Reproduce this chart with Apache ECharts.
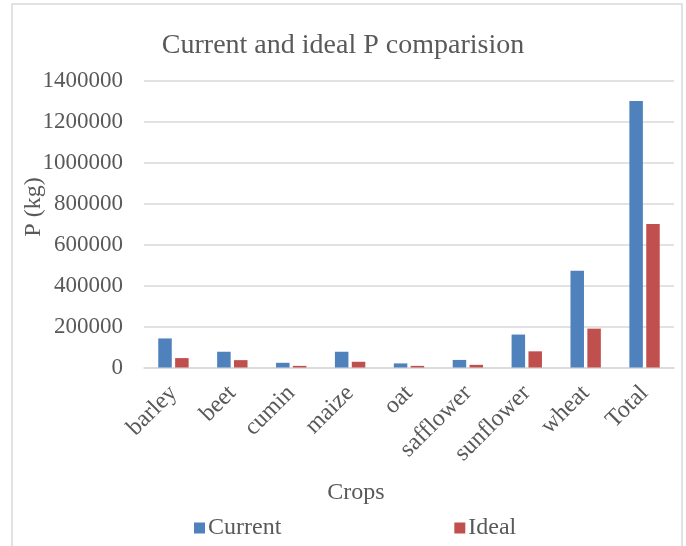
<!DOCTYPE html>
<html>
<head>
<meta charset="utf-8">
<script src="https://cdn.jsdelivr.net/npm/echarts@6/dist/echarts.min.js"></script>
<style>html,body{margin:0;padding:0;background:#fff;}#c{width:686px;height:546px;}</style>
</head>
<body>
<div id="c"></div>
<script>
const categories = ['barley','beet','cumin','maize','oat','safflower','sunflower','wheat','Total'];
const currentValues = [142000, 77000, 23000, 77000, 20000, 37000, 161000, 473000, 1302000];
const idealValues = [46000, 36000, 8000, 28000, 8000, 13000, 79000, 190000, 701000];
const titleText = 'Current and ideal P comparision';
const yAxisTitle = 'P (kg)';
const xAxisTitle = 'Crops';

const font = 'Liberation Serif, Times New Roman, serif';
const grey = '#595959';
const chart = echarts.init(document.getElementById('c'));
chart.setOption({
  animation: false,
  backgroundColor: '#fff',
  title: {
    text: titleText, left: 'center', top: 27,
    textStyle: {fontFamily: font, fontSize: 28, fontWeight: 'normal', color: grey}
  },
  legend: {
    left: 189, top: 511, itemWidth: 11, itemHeight: 11, itemGap: 173,
    icon: 'rect',
    textStyle: {fontFamily: font, fontSize: 24, color: grey, padding: [0,0,0,-2]},
    data: ['Current','Ideal']
  },
  grid: {left: 144, right: 12, top: 81, height: 286.5, containLabel: false},
  xAxis: {
    type: 'category', data: categories,
    axisLine: {lineStyle: {color: '#D9D9D9', width: 1.5}},
    axisTick: {show: false},
    axisLabel: {rotate: 45, fontFamily: font, fontSize: 24, color: grey, margin: 22, interval: 0}
  },
  yAxis: {
    type: 'value', min: 0, max: 1400000, interval: 200000,
    axisLine: {show: false}, axisTick: {show: false},
    splitLine: {lineStyle: {color: '#D9D9D9', width: 1.5}},
    axisLabel: {fontFamily: font, fontSize: 23, color: grey, margin: 21, formatter: function (v) { return String(v); }}
  },
  graphic: [
    {type: 'rect', shape: {x: 12, y: 4, width: 670, height: 600}, style: {fill: 'none', stroke: '#D9D9D9', lineWidth: 1.5}, silent: true},
    {type: 'text', x: 34, y: 207, rotation: Math.PI/2, style: {text: yAxisTitle, font: '24px ' + font, fill: grey, textAlign: 'center', textVerticalAlign: 'middle'}},
    {type: 'text', x: 356, y: 493, style: {text: xAxisTitle, font: '24px ' + font, fill: grey, textAlign: 'center', textVerticalAlign: 'middle'}}
  ],
  series: [
    {name: 'Current', type: 'bar', data: currentValues, barWidth: 13.5, barGap: '25%',
     itemStyle: {color: '#4F81BD'}},
    {name: 'Ideal', type: 'bar', data: idealValues, barWidth: 13.5,
     itemStyle: {color: '#C0504D'}}
  ]
});
</script>
</body>
</html>
